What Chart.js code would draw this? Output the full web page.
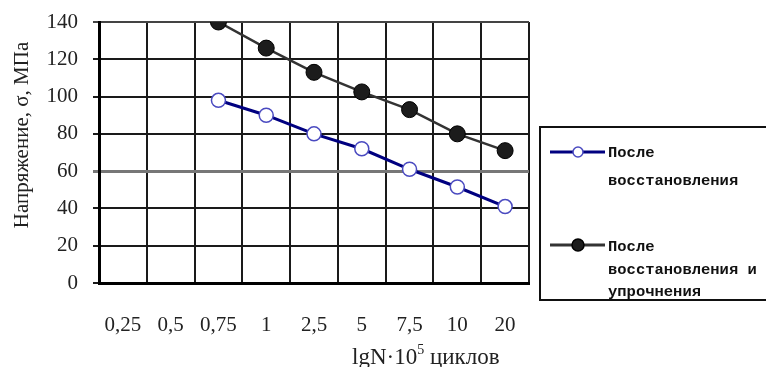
<!DOCTYPE html>
<html>
<head>
<meta charset="utf-8">
<script src="https://cdn.jsdelivr.net/npm/chart.js@4/dist/chart.umd.min.js"></script>
<style>
  html, body { margin: 0; padding: 0; background: #fff; }
  canvas { display: block; }
</style>
</head>
<body>
<canvas id="fatigueChart" width="766" height="367"></canvas>
<script>
// categories on the x axis (lgN·10^5 cycles)
const categories = ['0,25', '0,5', '0,75', '1', '2,5', '5', '7,5', '10', '20'];
// stress values, MPa (first two categories have no data)
const afterRestore = [null, null, 98, 90, 80, 72, 61, 51.5, 41];
const afterRestoreHardening = [null, null, 140, 126, 113, 102.5, 93, 80, 71];
const yMin = 0;
const yMax = 140;
const yStep = 20;
const legendLabels = [
    ['После', 'восстановления'],
    ['После', 'восстановления и', 'упрочнения']
];
const yTitle = 'Напряжение, σ, МПа';
const xTitle = ['lgN·10', '5', ' циклов'];

// draws the axis titles and the boxed legend on the right
const extrasPlugin = {
    id: 'extras',
    afterDraw(chart) {
        const ctx = chart.ctx;
        ctx.save();
        ctx.fillStyle = '#222';

        // y title
        ctx.save();
        ctx.translate(22, 135);
        ctx.rotate(-Math.PI / 2);
        ctx.font = '21px "Liberation Serif"';
        ctx.textAlign = 'center';
        ctx.textBaseline = 'middle';
        ctx.fillText(yTitle, 0, 0);
        ctx.restore();

        // x title with superscript
        ctx.textBaseline = 'alphabetic';
        ctx.textAlign = 'left';
        let x = 352;
        ctx.font = '23px "Liberation Serif"';
        ctx.fillText(xTitle[0], x, 364);
        x += ctx.measureText(xTitle[0]).width;
        ctx.font = '14px "Liberation Serif"';
        ctx.fillText(xTitle[1], x, 354);
        x += ctx.measureText(xTitle[1]).width;
        ctx.font = '23px "Liberation Serif"';
        ctx.fillText(xTitle[2], x, 364);

        // legend box
        ctx.strokeStyle = '#111';
        ctx.lineWidth = 2;
        ctx.strokeRect(540, 127, 240, 173);

        const entries = [
            { ds: chart.data.datasets[0], y: 152, lines: [153, 181], r: 5 },
            { ds: chart.data.datasets[1], y: 245, lines: [247, 270, 292], r: 6 }
        ];
        entries.forEach((e, i) => {
            ctx.strokeStyle = e.ds.borderColor;
            ctx.lineWidth = 3;
            ctx.beginPath();
            ctx.moveTo(550, e.y);
            ctx.lineTo(605, e.y);
            ctx.stroke();
            ctx.beginPath();
            ctx.arc(578, e.y, e.r, 0, Math.PI * 2);
            ctx.fillStyle = e.ds.pointBackgroundColor;
            ctx.fill();
            ctx.lineWidth = 1.5;
            ctx.strokeStyle = e.ds.pointBorderColor;
            ctx.stroke();

            ctx.fillStyle = '#111';
            ctx.font = 'bold 15.5px "Liberation Mono"';
            ctx.textBaseline = 'middle';
            legendLabels[i].forEach((t, j) => ctx.fillText(t, 608, e.lines[j]));
        });
        ctx.restore();
    }
};

const ctx = document.getElementById('fatigueChart').getContext('2d');

new Chart(ctx, {
    type: 'line',
    data: {
        labels: categories,
        datasets: [
            {
                label: legendLabels[0].join(' '),
                data: afterRestore,
                borderColor: '#000080',
                borderWidth: 3,
                pointRadius: 7,
                pointBackgroundColor: '#ffffff',
                pointBorderColor: '#4a4ac0',
                pointBorderWidth: 1.5,
                tension: 0
            },
            {
                label: legendLabels[1].join(' '),
                data: afterRestoreHardening,
                borderColor: '#333333',
                borderWidth: 2.5,
                pointRadius: 8,
                pointBackgroundColor: '#1c1c1c',
                pointBorderColor: '#000000',
                pointBorderWidth: 1,
                tension: 0
            }
        ]
    },
    options: {
        responsive: false,
        animation: false,
        layout: { padding: { top: 22, right: 237, left: 0, bottom: 0 } },
        plugins: {
            legend: { display: false },
            tooltip: { enabled: false }
        },
        scales: {
            x: {
                offset: true,
                grid: {
                    offset: true,
                    drawTicks: false,
                    color: '#1a1a1a',
                    lineWidth: 2
                },
                border: { color: '#000', width: 3 },
                ticks: {
                    padding: 30,
                    color: '#222',
                    font: { family: '"Liberation Serif"', size: 21 },
                    maxRotation: 0,
                    autoSkip: false
                },
                afterFit(scale) { scale.height = 84; }
            },
            y: {
                min: yMin,
                max: yMax,
                grid: {
                    tickLength: 6,
                    color: c => c.tick && c.tick.value === 60 ? '#777' : (c.tick && c.tick.value === yMax ? '#444' : '#1a1a1a'),
                    lineWidth: c => c.tick && c.tick.value === 60 ? 3 : 2
                },
                border: { color: '#000', width: 3 },
                ticks: {
                    stepSize: yStep,
                    padding: 15,
                    color: '#222',
                    font: { family: '"Liberation Serif"', size: 21, lineHeight: 1 }
                },
                afterFit(scale) {
                    scale.width = 99;
                    scale.paddingTop = 0;
                    scale.paddingBottom = 0;
                }
            }
        }
    },
    plugins: [extrasPlugin]
});
</script>
</body>
</html>
